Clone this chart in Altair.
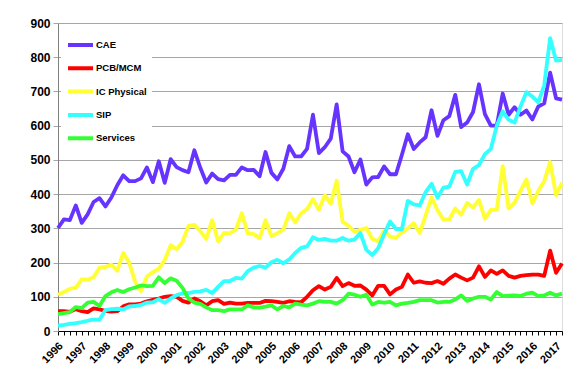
import altair as alt
import pandas as pd

# Quarterly values, 1996 Q1 .. 2017 Q2 (86 quarters)
first_year = 1996
quarter_names = ["Q1", "Q2", "Q3", "Q4"]
year_labels = list(range(1996, 2018))

cae = [301, 326, 324, 367, 316, 341, 377, 388, 364, 390, 426, 455, 438, 438, 446, 478,
       435, 496, 433, 502, 479, 470, 464, 528, 477, 434, 460, 444, 440, 456, 456, 478,
       470, 471, 452, 523, 462, 443, 474, 540, 510, 510, 532, 632, 520, 537, 562, 662,
       525, 510, 464, 501, 428, 449, 450, 481, 458, 458, 515, 575, 532, 551, 566, 645,
       570, 616, 628, 690, 596, 609, 640, 721, 634, 600, 600, 694, 632, 654, 632, 644,
       618, 656, 665, 755, 680, 676]
pcb = [58, 58, 56, 64, 58, 55, 66, 63, 59, 57, 58, 72, 78, 78, 80, 87,
       91, 95, 100, 102, 100, 88, 83, 95, 87, 75, 87, 90, 79, 83, 80, 80,
       82, 82, 82, 88, 87, 85, 82, 87, 85, 84, 100, 119, 131, 121, 129, 155,
       131, 140, 132, 133, 121, 104, 132, 132, 107, 121, 129, 165, 141, 145, 141, 140,
       146, 138, 153, 165, 156, 148, 156, 189, 158, 177, 167, 177, 161, 156, 161, 163,
       165, 165, 161, 235, 170, 197]
ic_physical = [106, 114, 123, 127, 151, 150, 157, 185, 187, 194, 176, 228, 200, 145, 117, 159,
               172, 182, 207, 251, 239, 260, 307, 310, 292, 269, 324, 262, 286, 286, 296, 344,
               286, 283, 271, 324, 277, 286, 296, 344, 317, 344, 356, 385, 354, 397, 372, 439,
               319, 308, 290, 296, 301, 269, 262, 293, 276, 272, 288, 300, 315, 286, 337, 390,
               353, 326, 326, 358, 340, 374, 361, 383, 328, 354, 354, 482, 358, 375, 409, 443,
               373, 409, 438, 494, 397, 433]
sip = [16, 18, 21, 23, 26, 30, 33, 33, 61, 64, 65, 63, 72, 73, 76, 83,
       84, 93, 82, 95, 105, 110, 111, 114, 116, 120, 111, 129, 146, 146, 155, 153,
       175, 185, 190, 185, 201, 208, 198, 209, 228, 243, 247, 274, 266, 269, 264, 264,
       272, 264, 267, 286, 237, 222, 242, 283, 320, 298, 298, 380, 370, 367, 406, 430,
       390, 419, 422, 465, 467, 428, 474, 485, 517, 532, 600, 642, 617, 609, 656, 698,
       685, 668, 718, 856, 790, 792]
services = [49, 52, 55, 70, 67, 83, 85, 73, 102, 113, 120, 114, 122, 127, 133, 131,
            132, 157, 140, 154, 147, 126, 95, 83, 79, 69, 61, 61, 58, 63, 63, 63,
            75, 69, 68, 71, 75, 63, 73, 69, 80, 77, 75, 80, 87, 85, 85, 80,
            90, 109, 106, 100, 106, 77, 85, 83, 85, 75, 80, 82, 85, 90, 90, 90,
            83, 85, 85, 92, 104, 88, 95, 100, 100, 92, 114, 102, 103, 104, 102, 109,
            112, 102, 104, 112, 104, 109]

series_names = ["CAE", "PCB/MCM", "IC Physical", "SIP", "Services"]
series_colors = ["#6633FF", "#FF0000", "#FFFF33", "#33FFFF", "#33FF33"]
series_values = [cae, pcb, ic_physical, sip, services]

rows = []
for s_order, (name, vals) in enumerate(zip(series_names, series_values)):
    for i, v in enumerate(vals):
        rows.append({
            "idx": i,
            "period": f"{first_year + i // 4} {quarter_names[i % 4]}",
            "series": name,
            "order": s_order,
            "value": v,
        })
df = pd.DataFrame(rows)
n_points = len(cae)

label_expr = (
    f"datum.value % 4 == 0 ? toString({first_year} + datum.value / 4) : ''"
)

chart = alt.Chart(df).mark_line(strokeWidth=3.8, strokeJoin="round").encode(
    x=alt.X(
        "idx:Q",
        scale=alt.Scale(domain=[0, n_points - 1], nice=False, zero=False),
        axis=alt.Axis(
            title=None,
            values=list(range(n_points)),
            labelExpr=label_expr,
            labelAngle=-45,
            labelAlign="right",
            labelBaseline="middle",
            labelFontSize=11,
            labelFontWeight="bold",
            labelFont="Liberation Sans",
            labelColor="#000000",
            labelOverlap=False,
            labelPadding=9,
            labelOffset=3,
            grid=False,
            tickSize=4,
            tickColor="#000000",
            domainColor="#000000",
        ),
    ),
    y=alt.Y(
        "value:Q",
        scale=alt.Scale(domain=[0, 900], nice=False),
        axis=alt.Axis(
            title=None,
            values=list(range(0, 901, 100)),
            labelFontSize=12,
            labelFontWeight="bold",
            labelFont="Liberation Sans",
            labelColor="#000000",
            labelPadding=3,
            grid=True,
            gridColor="#A6A6A6",
            gridWidth=1.2,
            tickSize=5,
            tickColor="#A6A6A6",
            domainColor="#808080",
        ),
    ),
    color=alt.Color(
        "series:N",
        scale=alt.Scale(domain=series_names, range=series_colors),
        legend=alt.Legend(
            title=None,
            orient="none",
            legendX=3,
            legendY=7,
            symbolType="stroke",
            symbolStrokeWidth=4,
            symbolSize=625,
            clipHeight=20,
            rowPadding=3.3,
            labelFontSize=9.5,
            labelFontWeight="bold",
            labelFont="Liberation Sans",
            labelColor="#000000",
            labelOffset=1,
            fillColor="#FFFFFF",
            padding=5,
        ),
    ),
    order=alt.Order("order:Q"),
    detail="series:N",
).properties(
    width=504,
    height=308,
    padding={"left": 21, "top": 9, "right": 5, "bottom": 5},
).configure_view(stroke=None).configure(background="#FFFFFF")

chart.save("out.html", embed_options={"renderer": "svg", "actions": False})
